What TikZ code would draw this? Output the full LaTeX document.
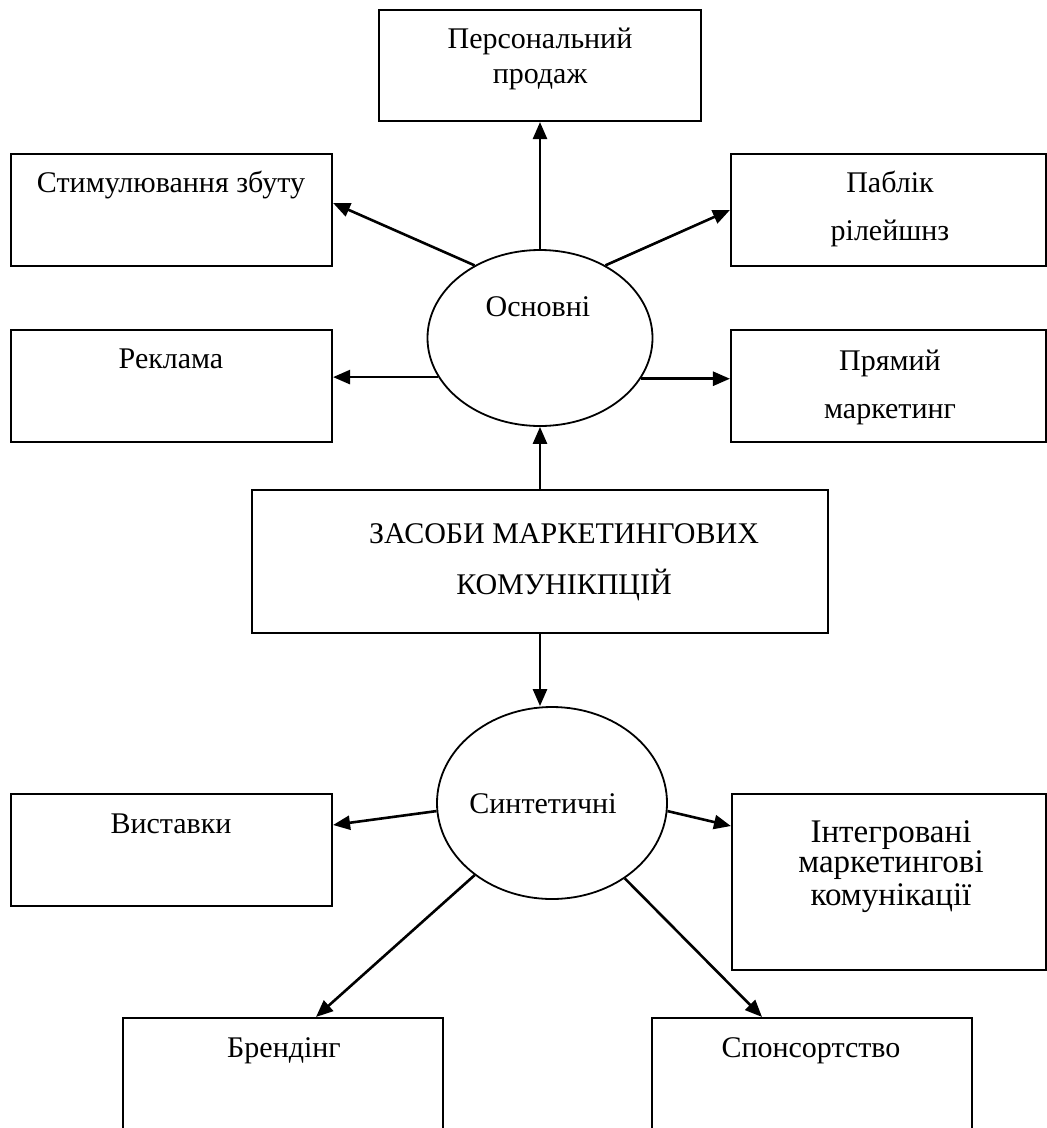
\documentclass[tikz,border=0pt]{standalone}
\usepackage{fontspec}
\setmainfont{Liberation Serif}
\usetikzlibrary{arrows.meta,shapes.geometric,fit}
\begin{document}
\begin{tikzpicture}[x=1pt,y=-1pt,
  box/.style={draw,line width=2.1pt,inner sep=0pt},
  ell/.style={draw,ellipse,line width=1.8pt,inner sep=0pt},
  txt/.style={inner sep=0pt,anchor=base,font=\fontsize{30}{36}\selectfont},
  bigtxt/.style={inner sep=0pt,anchor=base,font=\fontsize{33}{36}\selectfont},
  arr/.style={line width=2.6pt,-{Triangle[length=17pt,width=14pt]}}]
\useasboundingbox (0,0) rectangle (1047,1128);
% boxes
\node[box,fit={(379,10) (701,121)}] (per) {};
\node[box,fit={(11,154) (332,266)}] (stim) {};
\node[box,fit={(731,154) (1046,266)}] (pub) {};
\node[box,fit={(11,330) (332,442)}] (rek) {};
\node[box,fit={(731,330) (1046,442)}] (prm) {};
\node[box,fit={(252,490) (828,633)}] (zas) {};
\node[box,fit={(11,794) (332,906)}] (vys) {};
\node[box,fit={(732,794) (1046,970)}] (int) {};
\node[box,fit={(123,1018) (443,1140)}] (br) {};
\node[box,fit={(652,1018) (972,1140)}] (sp) {};
% ellipses
\node[ell,minimum width=225pt,minimum height=176pt] (osn) at (540,338) {};
\node[ell,minimum width=230pt,minimum height=192pt] (syn) at (552,803) {};
% texts
\node[txt] (tper1) at (540,48) {Персональний};
\node[txt] (tper2) at (540,83) {продаж};
\node[txt] (tstim) at (171,192) {Стимулювання збуту};
\node[txt] (tpub1) at (890,192) {Паблік};
\node[txt] (tpub2) at (890,240) {рілейшнз};
\node[txt] (trek) at (171,368) {Реклама};
\node[txt] (tprm1) at (890,370) {Прямий};
\node[txt] (tprm2) at (890,418) {маркетинг};
\node[txt] (tosn) at (538,316) {Основні};
\node[txt] (tzas1) at (564,543) {ЗАСОБИ МАРКЕТИНГОВИХ};
\node[txt] (tzas2) at (564,594) {КОМУНІКПЦІЙ};
\node[txt] (tsyn) at (543,813) {Синтетичні};
\node[txt] (tvys) at (171,833) {Виставки};
\node[bigtxt] (tint1) at (891,842) {Інтегровані};
\node[bigtxt] (tint2) at (891,872) {маркетингові};
\node[bigtxt] (tint3) at (891,905) {комунікації};
\node[txt] (tbr) at (284,1057) {Брендінг};
\node[txt] (tsp) at (811,1057) {Спонсортство};
% arrows
\draw[arr] (osn.north) -- (osn.north |- per.south);
\draw[arr] (osn.132) -- ([yshift=7pt]stim.east);
\draw[arr] (osn.48) -- (pub.west);
\draw[arr] (osn.201.8) -- (osn.201.8 -| rek.east);
\draw[arr] (osn.338) -- (osn.338 -| prm.west);
\draw[arr] (zas.north) -- (zas.north |- osn.south);
\draw[arr] (zas.south) -- (zas.south |- syn.north);
\draw[arr] (syn.184) -- ([yshift=25pt]vys.east);
\draw[arr] (syn.356) -- ([yshift=56pt]int.west);
\draw[arr] (syn.223) -- ([xshift=33pt]br.north);
\draw[arr] (syn.314) -- ([xshift=-50pt]sp.north);
\end{tikzpicture}
\end{document}
